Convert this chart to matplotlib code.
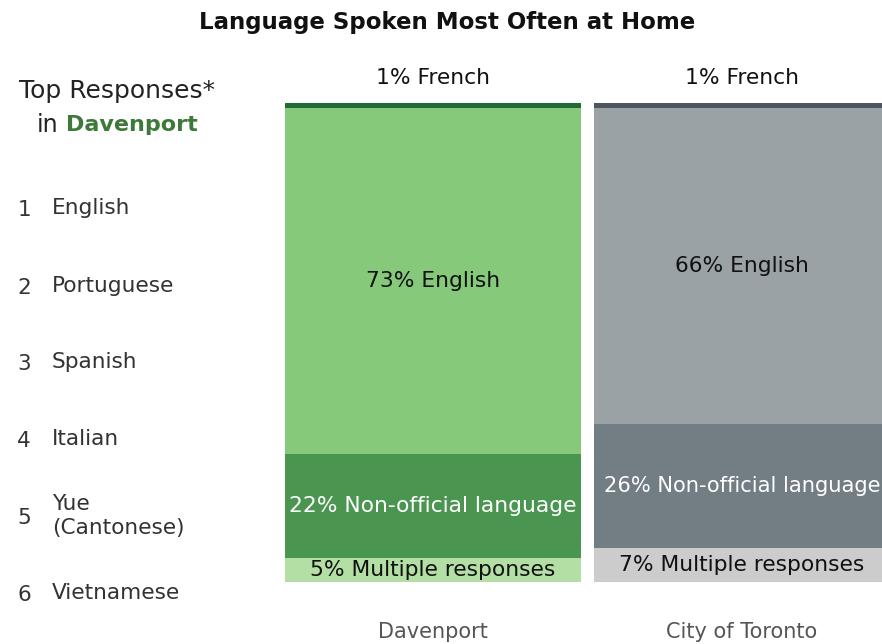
import matplotlib.pyplot as plt

# data
areas = ['Davenport', 'City of Toronto']
segments = ['Multiple responses', 'Non-official language', 'English', 'French']
davenport = [5, 22, 73, 1]
toronto = [7, 26, 66, 1]
top_languages = ['English', 'Portuguese', 'Spanish', 'Italian', 'Yue\n(Cantonese)', 'Vietnamese']

dav_colors = ['#b3dfa4', '#4a9651', '#86c97a', '#236b35']
tor_colors = ['#cccccc', '#737d84', '#9aa2a5', '#4c5560']
label_colors = ['#111111', 'white', '#111111', '#111111']

FONT = 'DejaVu Sans'

W, H = 882, 644
fig = plt.figure(figsize=(W / 100, H / 100), dpi=100)

# axes placed in pixel terms: bars bottom at 582px, top at 103px
ax = fig.add_axes([285 / W, 1 - 582 / H, 1 - 285 / W, (582 - 103) / H])
ax.set_xlim(-0.479, 1.453)
ax.set_ylim(0, 100)
ax.axis('off')

bw = 296 / 309
for i, (vals, cols) in enumerate([(davenport, dav_colors), (toronto, tor_colors)]):
    total = sum(vals)
    bottom = 0
    for j, (v, c) in enumerate(zip(vals, cols)):
        h = v / total * 100  # bars shown as share of the whole column
        ax.bar(i, h, bottom=bottom, width=bw, color=c, linewidth=0)
        text = f'{v}% {segments[j]}'
        fs = 15.7
        # the Toronto bar runs off the right edge, keep its long label inside
        if i == 1 and segments[j] == 'Non-official language':
            fs = 15.1
        if segments[j] == 'French':
            ax.text(i, 100 + 5.2, text, ha='center', va='center',
                    fontsize=fs, family=FONT, color='#111111')
        else:
            ax.text(i, bottom + h / 2, text, ha='center', va='center',
                    fontsize=fs, family=FONT, color=label_colors[j])
        bottom += h
    ax.text(i, -10.4, areas[i], ha='center', va='center', fontsize=15,
            family=FONT, color='#555555')

# title
fig.text(447 / W, 1 - 22 / H, 'Language Spoken Most Often at Home', ha='center', va='center',
         fontsize=16.5, family=FONT, fontweight='bold', color='#111111')

# left panel
fig.text(117 / W, 1 - 91 / H, 'Top Responses*', ha='center', va='center',
         fontsize=18, family=FONT, color='#222222')
fig.text(37 / W, 1 - 125 / H, 'in', ha='left', va='center',
         fontsize=17, family=FONT, color='#222222')
fig.text(66 / W, 1 - 125 / H, 'Davenport', ha='left', va='center',
         fontsize=16, family=FONT, fontweight='bold', color='#3d7a3a')

ys = [208, 286, 362, 439, 516, 593]
for k, (lang, y) in enumerate(zip(top_languages, ys)):
    fig.text(24 / W, 1 - (y + 2) / H, str(k + 1), ha='center', va='center',
             fontsize=15.5, family=FONT, color='#333333')
    fig.text(52 / W, 1 - y / H, lang, ha='left', va='center',
             fontsize=15.6, family=FONT, color='#333333', linespacing=1.3)

fig.savefig('out.png', dpi=100)
